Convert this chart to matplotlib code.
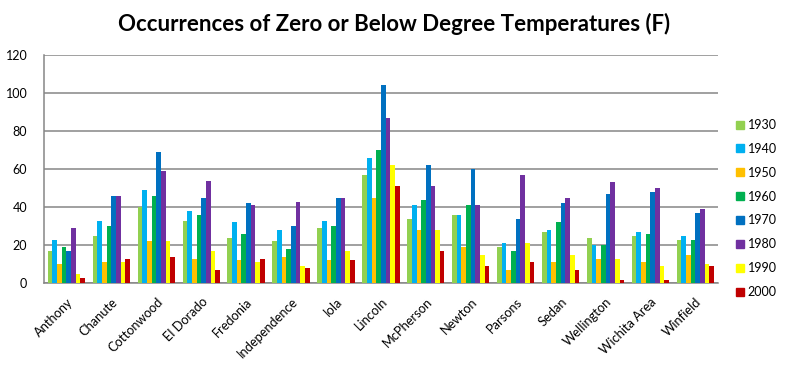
import matplotlib
matplotlib.use("Agg")
import matplotlib.pyplot as plt
import numpy as np
from matplotlib.lines import Line2D

plt.rcParams["font.family"] = ["Lato", "DejaVu Sans"]

towns = ["Anthony", "Chanute", "Cottonwood", "El Dorado", "Fredonia", "Independence",
         "Iola", "Lincoln", "McPherson", "Newton", "Parsons", "Sedan", "Wellington",
         "Wichita Area", "Winfield"]
decades = ["1930", "1940", "1950", "1960", "1970", "1980", "1990", "2000"]
colors = ["#92D050", "#00B0F0", "#FFC000", "#00B050", "#0070C0", "#7030A0", "#FFFF00", "#C00000"]

# one list per decade, in town order
d1930 = [17, 25, 40, 33, 24, 22, 29, 57, 34, 36, 19, 27, 24, 25, 23]
d1940 = [23, 33, 49, 38, 32, 28, 33, 66, 41, 36, 21, 28, 20, 27, 25]
d1950 = [10, 11, 22, 13, 12, 14, 12, 45, 28, 19, 7, 11, 13, 11, 15]
d1960 = [19, 30, 46, 36, 26, 18, 30, 70, 44, 41, 17, 32, 20, 26, 23]
d1970 = [17, 46, 69, 45, 42, 30, 45, 104, 62, 60, 34, 42, 47, 48, 37]
d1980 = [29, 46, 59, 54, 41, 43, 45, 87, 51, 41, 57, 45, 53, 50, 39]
d1990 = [5, 11, 22, 17, 11, 9, 17, 62, 28, 15, 21, 15, 13, 9, 10]
d2000 = [3, 13, 14, 7, 13, 8, 12, 51, 17, 9, 11, 7, 2, 2, 9]
series = [d1930, d1940, d1950, d1960, d1970, d1980, d1990, d2000]

fig = plt.figure(figsize=(7.88, 3.76), dpi=100)
ax = fig.add_axes([0.0558, 0.2465, 0.8552, 0.6072])

x = np.arange(len(towns))
group = 0.83
w = group / len(series)
for i, (vals, col, lab) in enumerate(zip(series, colors, decades)):
    ax.bar(x - group / 2 + (i + 0.5) * w, vals, width=w, color=col, label=lab, zorder=3)

ax.set_xlim(-0.5, len(towns) - 0.5)
ax.set_ylim(0, 120)
ax.set_yticks(range(0, 121, 20))
ax.yaxis.grid(True, color="#868686", linewidth=1.1, zorder=0)
ax.tick_params(axis="both", length=0, labelsize=9)
ax.tick_params(axis="y", pad=12)
ax.tick_params(axis="x", pad=9, labelsize=9.3)
ax.set_xticks(x)
ax.set_xticklabels(towns, rotation=45, ha="right", rotation_mode="anchor")
for s in ["top", "right"]:
    ax.spines[s].set_visible(False)
for s in ["left", "bottom"]:
    ax.spines[s].set_color("#868686")
    ax.spines[s].set_linewidth(1.1)

fig.suptitle("Occurrences of Zero or Below Degree Temperatures (F)",
             fontsize=16, fontweight="bold", y=0.965)

handles = [Line2D([], [], marker="s", linestyle="none", color=c, markersize=6) for c in colors]
fig.legend(handles, decades, loc="upper left", bbox_to_anchor=(0.925, 0.697),
           frameon=False, fontsize=9, handletextpad=0.1, labelspacing=0.95,
           handlelength=1.0, borderaxespad=0)

fig.savefig("out.png", dpi=100)
